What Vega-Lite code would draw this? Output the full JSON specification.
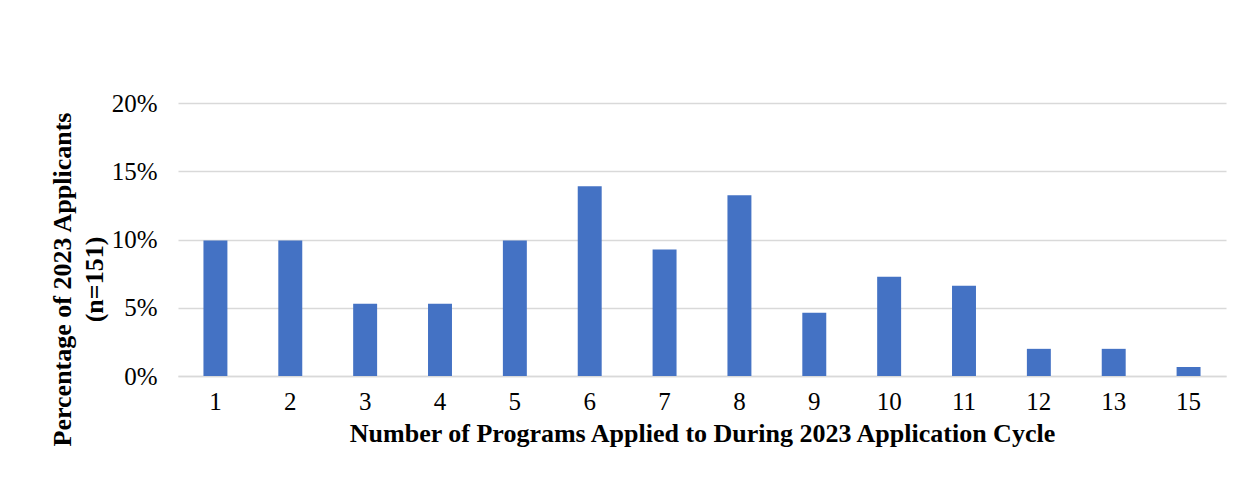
{
  "$schema": "https://vega.github.io/schema/vega-lite/v6.json",
  "width": 1048,
  "height": 273,
  "autosize": {"type": "none"},
  "padding": {"left": 178, "top": 103, "right": 15, "bottom": 109},
  "background": "white",
  "data": {
    "values": [
      {"programs": "1", "share": 0.0993},
      {"programs": "2", "share": 0.0993},
      {"programs": "3", "share": 0.0530},
      {"programs": "4", "share": 0.0530},
      {"programs": "5", "share": 0.0993},
      {"programs": "6", "share": 0.1391},
      {"programs": "7", "share": 0.0927},
      {"programs": "8", "share": 0.1325},
      {"programs": "9", "share": 0.0464},
      {"programs": "10", "share": 0.0728},
      {"programs": "11", "share": 0.0662},
      {"programs": "12", "share": 0.0199},
      {"programs": "13", "share": 0.0199},
      {"programs": "15", "share": 0.0066}
    ]
  },
  "mark": {"type": "bar", "color": "#4472C4"},
  "encoding": {
    "x": {
      "field": "programs",
      "type": "ordinal",
      "sort": null,
      "scale": {"paddingInner": 0.68, "paddingOuter": 0.34},
      "axis": {
        "title": "Number of Programs Applied to During 2023 Application Cycle",
        "labelAngle": 0,
        "labelFont": "Liberation Serif",
        "labelFontSize": 25,
        "labelColor": "#000000",
        "labelPadding": 13,
        "ticks": false,
        "domainColor": "#d9d9d9",
        "domainWidth": 1.5,
        "titleFont": "Liberation Serif",
        "titleFontSize": 26,
        "titleFontWeight": "bold",
        "titleColor": "#000000",
        "titlePadding": 6
      }
    },
    "y": {
      "field": "share",
      "type": "quantitative",
      "scale": {"domain": [0, 0.2]},
      "axis": {
        "title": ["Percentage of 2023 Applicants", "(n=151)"],
        "format": ".0%",
        "values": [0, 0.05, 0.1, 0.15, 0.2],
        "labelFont": "Liberation Serif",
        "labelFontSize": 25,
        "labelColor": "#000000",
        "labelPadding": 21,
        "ticks": false,
        "domain": false,
        "grid": true,
        "gridColor": "#d9d9d9",
        "gridWidth": 1.5,
        "titleFont": "Liberation Serif",
        "titleFontSize": 26,
        "titleFontWeight": "bold",
        "titleColor": "#000000",
        "titleAngle": -90,
        "titleBaseline": "top",
        "titleAlign": "center",
        "titleX": -129,
        "titleY": 176,
        "titleLineHeight": 32
      }
    }
  },
  "config": {"view": {"stroke": null}}
}
